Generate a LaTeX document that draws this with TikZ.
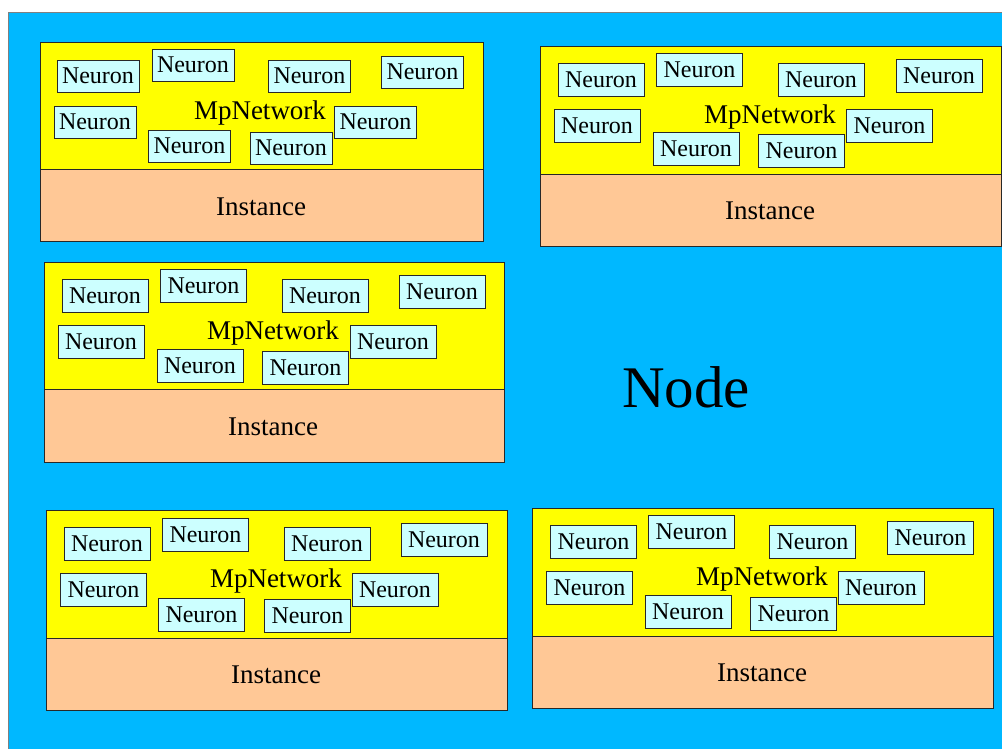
\documentclass[tikz,border=0pt]{standalone}
\usepackage{fontspec}
\setmainfont{Liberation Serif}
\definecolor{bgblue}{RGB}{0,184,255}
\definecolor{netyellow}{RGB}{255,255,0}
\definecolor{instpeach}{RGB}{255,200,150}
\definecolor{neurcyan}{RGB}{204,255,255}
\definecolor{edgegray}{RGB}{40,40,40}
\begin{document}
\begin{tikzpicture}[x=1pt,y=-1pt,
  netbox/.style={draw=edgegray,fill=netyellow,line width=0.8pt,inner sep=0pt,minimum height=128pt},
  instbox/.style={draw=edgegray,fill=instpeach,line width=0.8pt,inner sep=0pt,minimum height=72pt},
  neuron/.style={draw=edgegray,fill=neurcyan,line width=0.8pt,inner sep=0pt,minimum width=86pt,minimum height=33pt,font=\fontsize{24}{24}\selectfont,text depth=0pt},
  small/.style={minimum width=82pt,minimum height=32pt},
  lbl/.style={inner sep=0pt,font=\fontsize{27}{27}\selectfont,text depth=0pt}]
\useasboundingbox (0,0) rectangle (1002,749);
\fill[white] (0,0) rectangle (1002,749);
\node[draw=gray,fill=bgblue,line width=0.8pt,inner sep=0pt,minimum width=996pt,minimum height=739pt] (bg) at (506,381.5) {};
\node[inner sep=0pt,font=\fontsize{59}{59}\selectfont,text depth=0pt] (nodelbl) at (686,387) {Node};
% Block 1
\node[netbox,minimum width=443pt,minimum height=127pt] (net1) at (261.5,105.5) {};
\node[instbox,minimum width=443pt] (inst1) at (261.5,205) {};
\node[lbl] (inst1l) at (261,207) {Instance};
\node[lbl] (net1l) at (260,110) {MpNetwork};
\node[neuron,small] (a1) at (98,76) {Neuron};
\node[neuron,small] (a2) at (193,65) {Neuron};
\node[neuron,small] (a3) at (309.5,76) {Neuron};
\node[neuron,small] (a4) at (422.5,72) {Neuron};
\node[neuron,small] (a5) at (95,122) {Neuron};
\node[neuron,small] (a6) at (189.5,146) {Neuron};
\node[neuron,small] (a7) at (291,148) {Neuron};
\node[neuron,small] (a8) at (375.5,122) {Neuron};
% Block 2
\node[netbox,minimum width=461pt] (net2) at (770.5,110) {};
\node[instbox,minimum width=461pt] (inst2) at (770.5,210) {};
\node[lbl] (inst2l) at (770,211) {Instance};
\node[lbl] (net2l) at (770,114) {MpNetwork};
\node[neuron] (b1) at (601,79.5) {Neuron};
\node[neuron] (b2) at (699.5,69.5) {Neuron};
\node[neuron] (b3) at (821,79.5) {Neuron};
\node[neuron] (b4) at (939,75.5) {Neuron};
\node[neuron] (b5) at (597,125.5) {Neuron};
\node[neuron] (b6) at (696,149) {Neuron};
\node[neuron] (b7) at (801.5,151) {Neuron};
\node[neuron] (b8) at (889.5,125.5) {Neuron};
% Block 3
\node[netbox,minimum width=460pt,minimum height=127pt] (net3) at (274,325.5) {};
\node[instbox,minimum width=460pt,minimum height=73pt] (inst3) at (274,425.5) {};
\node[lbl] (inst3l) at (273,427) {Instance};
\node[lbl] (net3l) at (273,330) {MpNetwork};
\node[neuron] (c1) at (105,295.5) {Neuron};
\node[neuron] (c2) at (203.5,286) {Neuron};
\node[neuron] (c3) at (325,295.5) {Neuron};
\node[neuron] (c4) at (442,292) {Neuron};
\node[neuron] (c5) at (101,341.5) {Neuron};
\node[neuron] (c6) at (200,366) {Neuron};
\node[neuron] (c7) at (305.5,368) {Neuron};
\node[neuron] (c8) at (393,341.5) {Neuron};
% Block 4
\node[netbox,minimum width=461pt] (net4) at (276.5,574) {};
\node[instbox,minimum width=461pt] (inst4) at (276.5,674) {};
\node[lbl] (inst4l) at (276,675) {Instance};
\node[lbl] (net4l) at (276,578) {MpNetwork};
\node[neuron] (d1) at (107,544) {Neuron};
\node[neuron] (d2) at (205.5,534.5) {Neuron};
\node[neuron] (d3) at (327,544) {Neuron};
\node[neuron] (d4) at (444,540) {Neuron};
\node[neuron] (d5) at (103.5,590) {Neuron};
\node[neuron] (d6) at (201.5,614.5) {Neuron};
\node[neuron] (d7) at (307.5,616) {Neuron};
\node[neuron] (d8) at (395,590) {Neuron};
% Block 5
\node[netbox,minimum width=461pt] (net5) at (762.5,572) {};
\node[instbox,minimum width=461pt] (inst5) at (762.5,672) {};
\node[lbl] (inst5l) at (762,673) {Instance};
\node[lbl] (net5l) at (762,576) {MpNetwork};
\node[neuron] (e1) at (593.5,542) {Neuron};
\node[neuron] (e2) at (691.5,531.5) {Neuron};
\node[neuron] (e3) at (812.5,542) {Neuron};
\node[neuron] (e4) at (930.5,538) {Neuron};
\node[neuron] (e5) at (589.5,588) {Neuron};
\node[neuron] (e6) at (688,612) {Neuron};
\node[neuron] (e7) at (793.5,613.5) {Neuron};
\node[neuron] (e8) at (881,588) {Neuron};
\end{tikzpicture}
\end{document}
